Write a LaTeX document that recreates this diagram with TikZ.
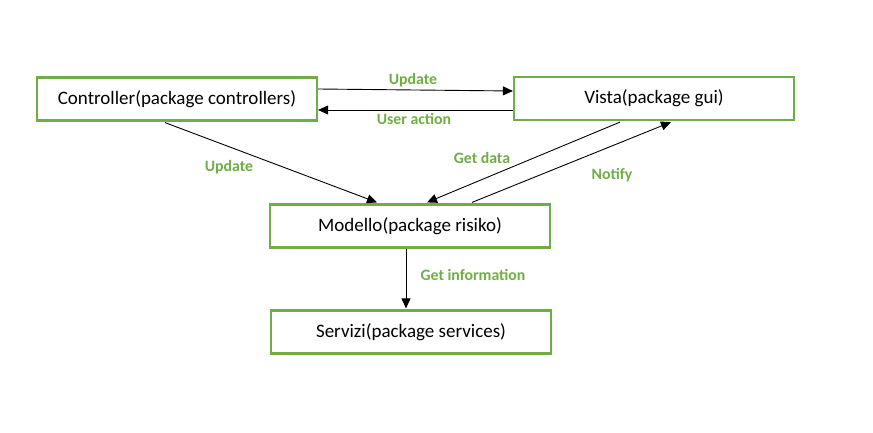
\documentclass[tikz,border=0pt]{standalone}
\usepackage{fontspec}
\setmainfont{Carlito}
\usetikzlibrary{arrows.meta}
\definecolor{boxgreen}{HTML}{70AD47}
\tikzset{
  pkg/.style={draw=boxgreen, line width=2.2pt, minimum width=280pt, minimum height=43pt, inner sep=0pt, font=\fontsize{19}{21}\selectfont},
  lbl/.style={text=boxgreen, font=\fontsize{15.8}{18}\selectfont\bfseries, inner sep=0pt},
  conn/.style={draw=black, line width=0.9pt, -{Triangle[length=10pt,width=9pt]}}
}
\begin{document}
\begin{tikzpicture}[x=1pt,y=-1pt]
\useasboundingbox (0,0) rectangle (873,433);
\node[pkg] (ctrl) at (177,99) {Controller(package controllers)};
\node[pkg] (vista) at (654,98.5) {Vista(package gui)};
\node[pkg] (mod) at (410,226) {Modello(package risiko)};
\node[pkg] (serv) at (411,332) {Servizi(package services)};
% connectors
\draw[conn] ([yshift=10pt]ctrl.east) -- ([yshift=7.5pt]vista.west);
\draw[conn] ([yshift=-11.5pt]vista.west) -- ([yshift=-11pt]ctrl.east);
\draw[conn] ([xshift=-12pt,yshift=-1pt]ctrl.south) -- ([xshift=-33pt,yshift=1pt]mod.north);
\draw[conn] ([xshift=-34pt,yshift=-1pt]vista.south) -- ([xshift=17pt,yshift=1pt]mod.north);
\draw[conn] ([xshift=62pt,yshift=1pt]mod.north) -- ([xshift=17pt,yshift=-1pt]vista.south);
\draw[conn] ([xshift=-4pt]mod.south) -- ([xshift=-5pt,yshift=1pt]serv.north);
% labels
\node[lbl] (l1) at (413,80) {Update};
\node[lbl] (l2) at (414,119) {User action};
\node[lbl] (l3) at (229,167) {Update};
\node[lbl] (l4) at (482,158) {Get data};
\node[lbl] (l5) at (612,175) {Notify};
\node[lbl] (l6) at (473,275) {Get information};
\end{tikzpicture}
\end{document}
